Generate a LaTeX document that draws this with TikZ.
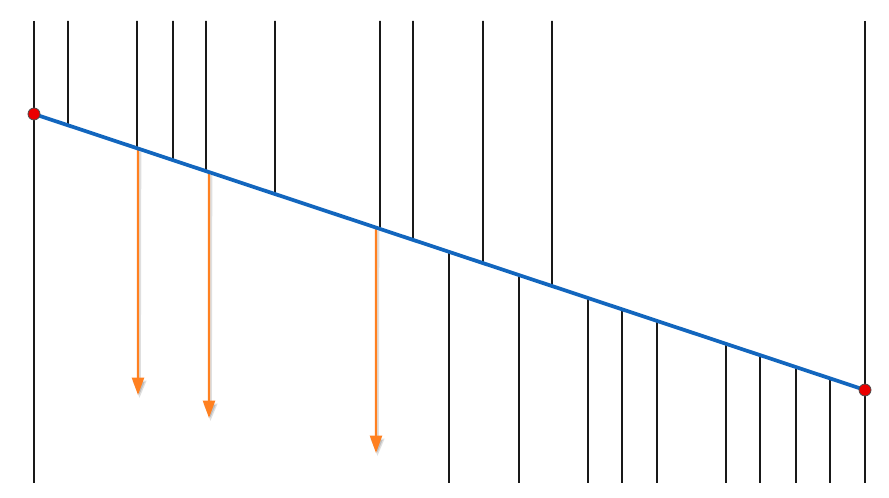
\documentclass[tikz,border=0pt]{standalone}
\usetikzlibrary{calc,arrows.meta}
\definecolor{lineblue}{RGB}{18,102,190}
\definecolor{arroworange}{RGB}{255,128,32}
\definecolor{dotred}{RGB}{235,0,0}
\tikzset{
  vline/.style={draw=black!90, line width=1.2pt},
  bline/.style={draw=lineblue, line width=2.8pt},
  oarrow/.style={draw=arroworange, line width=1.6pt, -{Triangle[length=13pt,width=9pt]}},
  oshadow/.style={draw=black!25, line width=2pt, -{Triangle[length=13pt,width=10pt]}},
  enddot/.style={circle, fill=dotred, draw=black!70, line width=0.6pt, inner sep=0pt, minimum size=9pt}
}
\begin{document}
\begin{tikzpicture}[x=0.75pt,y=-0.75pt]
\useasboundingbox (0,0) rectangle (889,498);
\coordinate (A) at (34,114);
\coordinate (B) at (865,390);
% full verticals at the ends
\coordinate (Lt) at (34,21); \coordinate (Lb) at (34,483);
\coordinate (Rt) at (865,21); \coordinate (Rb) at (865,483);
\draw[vline] (Lt) -- (Lb);
\draw[vline] (Rt) -- (Rb);
% lines hanging from the top to the blue line
\foreach \x [count=\i] in {68,137,173,206,275,380,413,483,552} {
  \coordinate (t\i) at (\x,21);
  \coordinate (m\i) at ($(A)!{(\x-34)/831}!(B)$);
  \draw[vline] (t\i) -- (m\i);
}
% lines rising from the bottom to the blue line
\foreach \x [count=\i] in {449,519,588,622,657,726,760,796,830} {
  \coordinate (b\i) at (\x,483);
  \coordinate (n\i) at ($(A)!{(\x-34)/831}!(B)$);
  \draw[vline] (b\i) -- (n\i);
}
% orange arrows
\foreach \x/\y [count=\i] in {138/395,209/418,376/453} {
  \coordinate (os\i) at ($(A)!{(\x-34)/831}!(B)$);
  \coordinate (oe\i) at (\x,\y);
  \coordinate (ss\i) at ($(os\i)+(2,3)$);
  \coordinate (se\i) at ($(oe\i)+(1.5,3)$);
  \draw[oshadow, draw opacity=0.5] (ss\i) -- (se\i);
  \draw[oarrow] (os\i) -- (oe\i);
}
\draw[bline] (A) -- (B);
\node[enddot] (dA) at (A) {};
\node[enddot] (dB) at (B) {};
\end{tikzpicture}
\end{document}
